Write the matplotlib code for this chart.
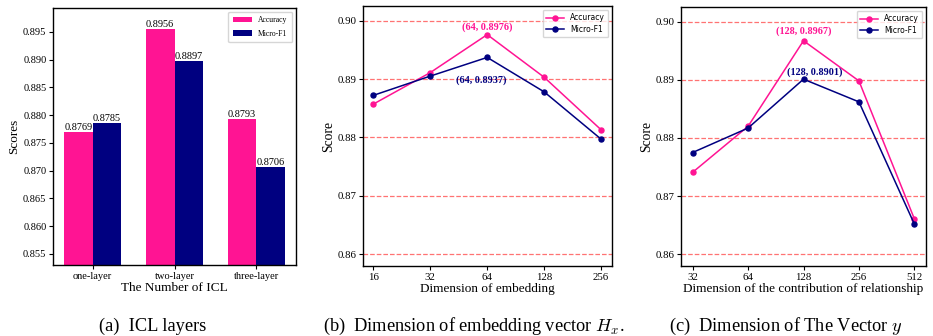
import matplotlib
matplotlib.use("Agg")
import matplotlib.pyplot as plt
import numpy as np

plt.rcParams['font.family'] = ['Liberation Serif', 'DejaVu Serif']
plt.rcParams['mathtext.fontset'] = 'cm'

# Panel (a) data
icl_layers = ['one-layer', 'two-layer', 'three-layer']
icl_acc = [0.8769, 0.8956, 0.8793]
icl_f1 = [0.8785, 0.8897, 0.8706]

# Panel (b) data
emb_dims = ['16', '32', '64', '128', '256']
emb_acc = [0.8857, 0.8911, 0.8976, 0.8903, 0.8813]
emb_f1 = [0.8872, 0.8905, 0.8937, 0.8878, 0.8797]

# Panel (c) data
rel_dims = ['32', '64', '128', '256', '512']
rel_acc = [0.8741, 0.8820, 0.8967, 0.8898, 0.8661]
rel_f1 = [0.8775, 0.8817, 0.8901, 0.8862, 0.8652]

PINK = '#FF1493'
NAVY = '#000080'

W, H = 933, 336
fig = plt.figure(figsize=(W / 100, H / 100), dpi=100)


def add_ax(l, r, t, b):
    return fig.add_axes([l / W, 1 - b / H, (r - l) / W, (b - t) / H])


# ---------- (a) ----------
ax1 = add_ax(53, 296, 8, 265)
x = np.arange(len(icl_layers))
w = 0.35
b1 = ax1.bar(x - w / 2, icl_acc, w, color=PINK, label='Accuracy')
b2 = ax1.bar(x + w / 2, icl_f1, w, color=NAVY, label='Micro-F1')
for bars, vals in ((b1, icl_acc), (b2, icl_f1)):
    for rect, v in zip(bars, vals):
        ax1.text(rect.get_x() + rect.get_width() / 2, v, f'{v:.4f}',
                 ha='center', va='bottom', fontsize=7.4)
ax1.set_ylim(0.853, 0.8993)
yt = np.arange(0.855, 0.8951, 0.005)
ax1.set_yticks(yt)
ax1.set_yticklabels([f'{t:.3f}' for t in yt])
ax1.set_xticks(x)
ax1.set_xticklabels(icl_layers)
ax1.tick_params(labelsize=7.5, length=3.2, pad=1.5)
ax1.set_xlabel('The Number of ICL', fontsize=9.5, labelpad=1)
ax1.set_ylabel('Scores', fontsize=9.5, labelpad=2)
ax1.legend(loc='upper right', fontsize=5.5, frameon=True, handlelength=2.5,
           borderpad=0.6, labelspacing=0.7)


def line_panel(ax, cats, acc, f1, xlabel):
    xs = np.arange(len(cats))
    for yv in [0.86, 0.87, 0.88, 0.89, 0.90]:
        ax.axhline(yv, color='red', linestyle='--', linewidth=0.9, alpha=0.55, zorder=0)
    ax.plot(xs, acc, color=PINK, marker='o', markersize=3.6, linewidth=1.1, label='Accuracy')
    ax.plot(xs, f1, color=NAVY, marker='o', markersize=3.6, linewidth=1.1, label='Micro-F1')
    ax.set_ylim(0.858, 0.9025)
    ax.set_yticks([0.86, 0.87, 0.88, 0.89, 0.90])
    ax.set_yticklabels(['0.86', '0.87', '0.88', '0.89', '0.90'])
    ax.set_xticks(xs)
    ax.set_xticklabels(cats)
    ax.tick_params(labelsize=7.8, length=3.2, pad=1.5)
    ax.set_xlabel(xlabel, fontsize=9.5, labelpad=1)
    ax.set_ylabel('Score', fontsize=9.8, labelpad=2)
    ax.legend(loc='upper right', prop={'family': 'DejaVu Sans', 'size': 5.5},
              handlelength=2.3, borderpad=0.45, labelspacing=0.35)
    return xs


# ---------- (b) ----------
ax2 = add_ax(363, 612, 6, 266)
xs = line_panel(ax2, emb_dims, emb_acc, emb_f1, 'Dimension of embedding')
ax2.set_xlim(-0.18, 4.19)
ax2.annotate(f'({emb_dims[2]}, {emb_acc[2]})', (xs[2], emb_acc[2]), xytext=(0, 5),
             textcoords='offset points', ha='center', va='center',
             color=PINK, fontsize=7.3, fontweight='bold')
ax2.annotate(f'({emb_dims[2]}, {emb_f1[2]})', (xs[2], emb_f1[2]), xytext=(-4.5, -16.5),
             textcoords='offset points', ha='center', va='center',
             color=NAVY, fontsize=7.3, fontweight='bold')

# ---------- (c) ----------
ax3 = add_ax(681, 926, 7, 266)
xs = line_panel(ax3, rel_dims, rel_acc, rel_f1, 'Dimension of the contribution of relationship')
ax3.set_xlim(-0.21, 4.21)
ax3.annotate(f'({rel_dims[2]}, {rel_acc[2]})', (xs[2], rel_acc[2]), xytext=(0, 7),
             textcoords='offset points', ha='center', va='center',
             color=PINK, fontsize=7.3, fontweight='bold')
ax3.annotate(f'({rel_dims[2]}, {rel_f1[2]})', (xs[2], rel_f1[2]), xytext=(8, 5),
             textcoords='offset points', ha='center', va='center',
             color=NAVY, fontsize=7.3, fontweight='bold')

for ax in (ax1, ax2, ax3):
    for s in ax.spines.values():
        s.set_linewidth(1.0)

# Captions
cap_y = 1 - 326 / H
fig.text(153 / W, cap_y, '(a)  ICL layers', ha='center', va='center', fontsize=13.2)
fig.text(474 / W, cap_y, r'(b)  Dimension of embedding vector $H_x$.', ha='center', va='center', fontsize=13.2)
fig.text(786 / W, cap_y, r'(c)  Dimension of The Vector $y$', ha='center', va='center', fontsize=13.2)

fig.savefig('out.png', dpi=100)
